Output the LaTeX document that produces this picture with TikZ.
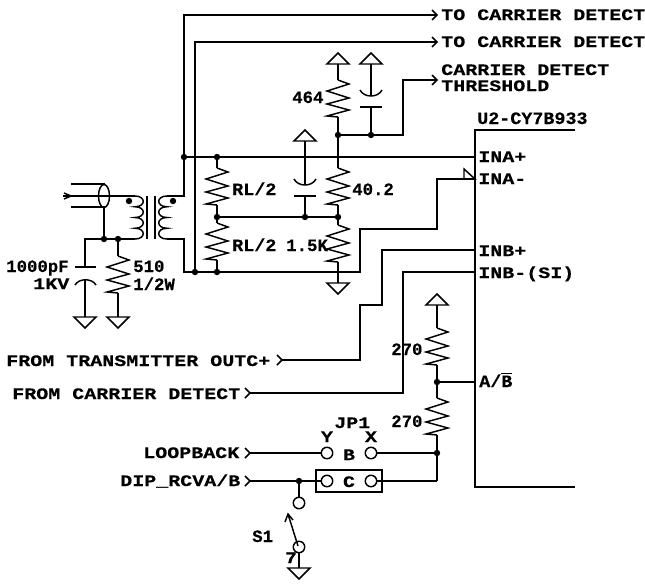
\documentclass[tikz,border=0pt]{standalone}
\usepackage{fontspec}
\setmainfont{Liberation Mono}[BoldFont={Liberation Mono Bold}]
\newfontfamily\widef{Liberation Mono Bold}[FakeStretch=1.25,FakeBold=0.4]
\newfontfamily\midf{Liberation Mono Bold}[FakeStretch=1.06,FakeBold=0.4]
\newfontfamily\narrowf{Liberation Mono Bold}[FakeBold=0.4]
\tikzset{
  wire/.style={line width=1.1pt,line join=miter,line cap=butt},
  lbl/.style={anchor=base west,inner sep=0pt,font=\fontsize{12}{12}\selectfont\widef},
  lblm/.style={anchor=base west,inner sep=0pt,font=\fontsize{13}{13}\selectfont\midf},
  lbln/.style={anchor=base west,inner sep=0pt,font=\fontsize{13}{13}\selectfont\narrowf},
  lblc/.style={anchor=base,inner sep=0pt,font=\fontsize{12}{12}\selectfont\widef},
  junction/.style={circle,fill=black,inner sep=0pt,minimum size=4.8pt},
  pad/.style={circle,draw=black,fill=white,line width=1.1pt,inner sep=0pt,minimum size=8.6pt}
}
\newcommand{\resz}[3]{% x, y start, name prefix: 37 px tall zigzag
  \coordinate (#3a) at (#1,#2);
  \coordinate (#3b) at (#1,#2+37);
  \draw[wire] (#3a) -- ++(11,4) -- ++(-22,7) -- ++(22,7) -- ++(-22,6) -- ++(22,6) -- ++(-22,6) -- (#3b);
}
\newcommand{\gndtri}[2]{\draw[wire] (#1-11,#2) -- (#1+11,#2) -- (#1,#2+11) -- cycle;}
\newcommand{\uptri}[2]{\draw[wire] (#1-11,#2) -- (#1+11,#2) -- (#1,#2-11) -- cycle;}
\newcommand{\chev}[2]{\draw[wire] (#1-5,#2-5) -- (#1,#2) -- (#1-5,#2+5);}
\newcommand{\capdown}[2]{% plates: curve above flat; #2 = y of curve bottom
  \draw[wire] (#1-11,#2-6) .. controls (#1-7,#2+2) and (#1+7,#2+2) .. (#1+11,#2-6);
  \draw[wire] (#1-11,#2+11) -- (#1+11,#2+11);}
\newcommand{\bump}[3]{.. controls (#1+#3,#2) and (#1+#3,#2+10.75) .. (#1,#2+10.75)}
\begin{document}
\begin{tikzpicture}[x=0.75pt,y=-0.75pt]
\useasboundingbox (0,0) rectangle (645,583);
% junctions
\coordinate (jA) at (184,157);
\coordinate (jB) at (195,272);
\coordinate (jC) at (217,157);
\coordinate (jD) at (217,217);
\coordinate (jE) at (217,272);
\coordinate (jF) at (305,217);
\coordinate (jG) at (338,217);
\coordinate (jH) at (338,135);
\coordinate (jI) at (371,135);
\coordinate (jJ) at (104,239);
\coordinate (jK) at (118,239);
\coordinate (jL) at (437,382);
\coordinate (jM) at (437,453);
\coordinate (jN) at (299,481);
% top outputs
\draw[wire] (167,196) -- (184,196) -- (184,15) -- (437,15);
\chev{437}{15}
\draw[wire] (167,239) -- (184,239) -- (184,272) -- (jB) -- (195,42) -- (437,42);
\chev{437}{42}
\draw[wire] (jB) -- (360,272) -- (360,229) -- (437,229) -- (437,179) -- (475,179);
\draw[wire] (464,169) -- (475,179) -- (464,179) -- cycle;
\draw[wire] (jA) -- (475,157);
% IC
\draw[wire] (575,130) -- (475,130) -- (475,487) -- (575,487);
% RL/2
\resz{217}{168}{ra}
\resz{217}{223}{rb}
\draw[wire] (jC) -- (raa) (rab) -- (jD) -- (rba) (rbb) -- (jE);
\draw[wire] (jD) -- (jG);
% 464 / 40.2 / 1.5K
\resz{338}{80}{rc}
\resz{338}{168}{rd}
\resz{338}{225}{re}
\uptri{338}{64}
\draw[wire] (338,64) -- (rca) (rcb) -- (jH) -- (rda) (rdb) -- (jG) -- (rea) (reb) -- (338,283);
\gndtri{338}{283}
% caps
\uptri{371}{64}
\draw[wire] (371,64) -- (371,96);
\capdown{371}{96}
\draw[wire] (371,107) -- (jI);
\uptri{305}{141}
\draw[wire] (305,141) -- (305,184);
\capdown{305}{185}
\draw[wire] (305,196) -- (jF);
% threshold
\draw[wire] (jH) -- (403,135) -- (403,80) -- (437,80);
\chev{437}{80}
% coax
\draw[wire] (71,184) -- (105,184);
\draw[wire] (71,207) -- (105,207);
\draw[wire] (63,196) -- (135,196);
\draw[wire] (64,193) -- (71,196) -- (64,199);
\draw[wire] (104,196) ellipse [x radius=5.5,y radius=11.5];
\draw[wire] (104,207) -- (jJ);
\draw[wire] (85,267) -- (85,239) -- (135,239);
% transformer
\draw[wire] (135,196) \bump{135}{196}{11} \bump{135}{206.75}{11} \bump{135}{217.5}{11} \bump{135}{228.25}{11};
\draw[wire] (167,196) \bump{167}{196}{-11} \bump{167}{206.75}{-11} \bump{167}{217.5}{-11} \bump{167}{228.25}{-11};
\draw[wire] (147,196) -- (147,239) (155,196) -- (155,239);
\node[junction] (dotp) at (129,201) {};
\node[junction] (dots) at (173,201) {};
% 1000pF
\draw[wire] (75,267) -- (96,267);
\draw[wire] (75,285) .. controls (79,278) and (92,278) .. (96,285);
\draw[wire] (85,280) -- (85,317);
\gndtri{85}{317}
% 510
\resz{118}{256}{rf}
\draw[wire] (jK) -- (rfa) (rfb) -- (118,317);
\gndtri{118}{317}
% inputs
\draw[wire] (282,360) -- (360,360) -- (360,305) -- (382,305) -- (382,250) -- (475,250);
\chev{282}{360}
\draw[wire] (250,393) -- (403,393) -- (403,272) -- (475,272);
\chev{250}{393}
% A/B
\uptri{437}{305}
\resz{437}{328}{rg}
\resz{437}{398}{rh}
\draw[wire] (437,305) -- (rga) (rgb) -- (jL) -- (rha) (rhb) -- (437,481);
\draw[wire] (jL) -- (475,382);
% JP1
\node[pad] (padY) at (327,453) {};
\node[pad] (padX) at (371,453) {};
\node[pad] (padYc) at (327,481) {};
\node[pad] (padXc) at (371,481) {};
\draw[wire] (250,453) -- (padY);
\chev{250}{453}
\draw[wire] (padX) -- (jM);
\draw[wire] (250,481) -- (padYc);
\chev{250}{481}
\draw[wire] (padXc) -- (437,481);
\draw[wire] (316,470) rectangle (382,492);
% S1
\node[pad] (padS) at (299,503) {};
\node[pad] (padW) at (299,547) {};
\draw[wire] (jN) -- (padS);
\draw[wire] (padW) -- (299,568);
\gndtri{299}{568}
\coordinate (swtip) at (288,514);
\draw[wire] (298,546) -- (swtip);
\draw[wire] (285,522) -- (swtip) -- (293,520);
% dots on top
\foreach \j in {jA,jB,jC,jD,jE,jF,jG,jH,jI,jJ,jK,jL,jM,jN} \node[junction] at (\j) {};
% text
\node[lbl] (t1) at (441,20) {TO CARRIER DETECT};
\node[lbl] (t2) at (441,47) {TO CARRIER DETECT};
\node[lbl] (t3) at (441,75) {CARRIER DETECT};
\node[lbl] (t4) at (441,91) {THRESHOLD};
\node[lblm] (t5) at (477,124) {U2-CY7B933};
\node[lbl] (t6) at (478,162) {INA+};
\node[lbl] (t7) at (478,184) {INA-};
\node[lbl] (t8) at (478,256) {INB+};
\node[lbl] (t9) at (478,278) {INB-(SI)};
\node[lblm] (t10) at (479,387) {A/$\overline{\hbox{B}}$};
\node[lbln] (t11) at (292,103) {464};
\node[lbln] (t12) at (352,195) {40.2};
\node[lbln] (t13) at (286,251) {1.5K};
\node[lblm] (t14) at (232,195) {RL/2};
\node[lblm] (t15) at (232,251) {RL/2};
\node[lbln] (t16) at (6,272) {1000pF};
\node[lbl] (t17) at (33,289) {1KV};
\node[lbln] (t18) at (133,272) {510};
\node[lbln] (t19) at (133,290) {1/2W};
\node[lbl] (t20) at (6,366) {FROM TRANSMITTER OUTC+};
\node[lbl] (t21) at (12,399) {FROM CARRIER DETECT};
\node[lbln] (t22) at (391,355) {270};
\node[lbln] (t23) at (391,427) {270};
\node[lbl] (t24) at (334,428) {JP1};
\node[lblc] (t25) at (327,442) {Y};
\node[lblc] (t26) at (371,442) {X};
\node[lblc] (t27) at (349,460) {B};
\node[lblc] (t28) at (349,487) {C};
\node[lbl] (t29) at (143,458) {LOOPBACK};
\node[lbl] (t30) at (120,486) {DIP\_RCVA/B};
\node[lbln] (t31) at (252,542) {S1};
\node[lblc] (t32) at (291,563) {7};
\end{tikzpicture}
\end{document}
